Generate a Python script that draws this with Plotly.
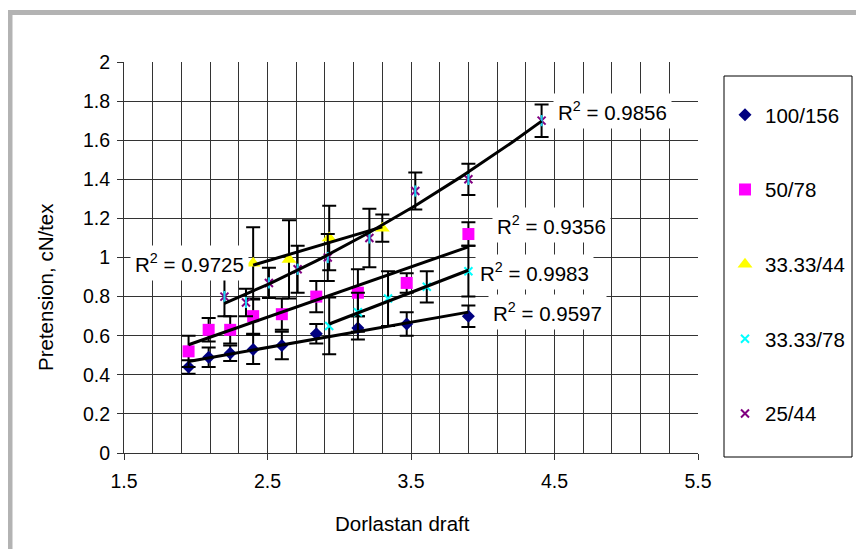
import numpy as np
import plotly.graph_objects as go

# ---------------- data ----------------
x_100_156 = [1.95, 2.09, 2.24, 2.40, 2.60, 2.84, 3.13, 3.47, 3.90]
y_100_156 = [0.44, 0.49, 0.51, 0.53, 0.55, 0.61, 0.64, 0.66, 0.70]
e_100_156 = [0.035, 0.05, 0.04, 0.075, 0.07, 0.05, 0.06, 0.06, 0.055]

x_50_78 = [1.95, 2.09, 2.24, 2.40, 2.60, 2.84, 3.13, 3.47, 3.90]
y_50_78 = [0.52, 0.63, 0.63, 0.70, 0.71, 0.80, 0.82, 0.87, 1.12]
e_50_78 = [0.08, 0.06, 0.07, 0.09, 0.08, 0.08, 0.12, 0.05, 0.06]

x_33_44 = [2.40, 2.65, 2.93, 3.30]
y_33_44 = [0.97, 0.99, 1.10, 1.15]
e_33_44 = [0.185, 0.20, 0.165, 0.07]

x_33_78 = [2.93, 3.13, 3.34, 3.61, 3.90]
y_33_78 = [0.65, 0.72, 0.79, 0.85, 0.93]
e_33_78 = [0.145, 0.10, 0.14, 0.08, 0.13]

x_25_44 = [2.20, 2.35, 2.51, 2.71, 2.92, 3.21, 3.53, 3.90, 4.41]
y_25_44 = [0.80, 0.77, 0.87, 0.94, 1.00, 1.10, 1.34, 1.40, 1.70]
e_25_44 = [0.10, 0.07, 0.077, 0.12, 0.12, 0.15, 0.095, 0.08, 0.083]

series_names = ["100/156", "50/78", "33.33/44", "33.33/78", "25/44"]
r2_labels = ["0.9597", "0.9356", "0.9725", "0.9983", "0.9856"]

# ---------------- layout constants ----------------
# the page body has an 8px margin, so the figure is drawn 8px smaller
W, H = 856, 541
ML, MR, MT, MB = 116, 166, 54, 96
PW, PH = W - ML - MR, H - MT - MB
FONT = "Liberation Sans, Arial, sans-serif"


def px_x(p):
    return (p - ML) / PW


def px_y(p):
    return 1 - (p - MT) / PH


fig = go.Figure()

styles = [
    dict(symbol="diamond", color="#000080", size=10, line=dict(width=0)),
    dict(symbol="square", color="#FF00FF", size=12, line=dict(width=0)),
    dict(symbol="triangle-up", color="#FFFF00", size=13, line=dict(width=0)),
    dict(symbol="x-thin-open", color="#00FFFF", size=8, line=dict(width=2, color="#00FFFF")),
    dict(symbol="x-thin-open", color="#800080", size=8, line=dict(width=2, color="#800080")),
]

data = [
    (x_100_156, y_100_156, e_100_156),
    (x_50_78, y_50_78, e_50_78),
    (x_33_44, y_33_44, e_33_44),
    (x_33_78, y_33_78, e_33_78),
    (x_25_44, y_25_44, e_25_44),
]

for i, ((xs, ys, es), name, st) in enumerate(zip(data, series_names, styles)):
    fig.add_trace(go.Scatter(
        x=xs, y=ys, mode="markers", name=name, legendgroup=f"g{i}",
        marker=st,
        error_y=dict(type="data", array=es, visible=True, color="black",
                     thickness=2, width=7),
    ))

# vertical stroke completing the star markers of 25/44
fig.add_trace(go.Scatter(
    x=x_25_44, y=y_25_44, mode="markers", showlegend=False,
    marker=dict(symbol="line-ns-open", size=8, line=dict(width=2, color="#800080")),
))

# trendlines
for i, (xs, ys, es) in enumerate(data):
    xs_a, ys_a = np.array(xs), np.array(ys)
    deg = 2 if i == 4 else 1
    c = np.polyfit(xs_a, ys_a, deg)
    xx = np.linspace(xs_a.min(), xs_a.max(), 60)
    fig.add_trace(go.Scatter(x=xx, y=np.polyval(c, xx), mode="lines",
                             showlegend=False, hoverinfo="skip",
                             line=dict(color="black", width=3)))

# R² labels (data-coordinate anchors)
r2_pos = [(4.034, 0.722), (4.062, 1.166), (1.542, 0.971), (3.946, 0.927), (4.49, 1.747)]
annotations = []
for (ax, ay), lab in zip(r2_pos, r2_labels):
    annotations.append(dict(
        x=ax, y=ay, xref="x", yref="y", xanchor="left", yanchor="middle",
        text=f"R<sup>2</sup> = {lab}", showarrow=False, bgcolor="white",
        borderpad=4, font=dict(family=FONT, size=20.5, color="black")))

# axis titles
annotations.append(dict(x=px_x(402 - 8), y=px_y(523 - 8), xref="paper", yref="paper",
                        xanchor="center", yanchor="middle", showarrow=False,
                        text="Dorlastan draft", font=dict(family=FONT, size=20.5)))
annotations.append(dict(x=px_x(45 - 8), y=px_y(287 - 8), xref="paper", yref="paper",
                        xanchor="center", yanchor="middle", showarrow=False, textangle=-90,
                        text="Pretension, cN/tex", font=dict(family=FONT, size=20.5)))

shapes = [
    # grey outer frame (left and top edges)
    dict(type="rect", xref="paper", yref="paper", x0=px_x(-0.5), x1=px_x(4.5),
         y0=px_y(H), y1=px_y(2), fillcolor="#B3B3B3", line=dict(width=0), layer="below"),
    dict(type="rect", xref="paper", yref="paper", x0=px_x(-0.5), x1=px_x(W),
         y0=px_y(7), y1=px_y(2), fillcolor="#B3B3B3", line=dict(width=0), layer="below"),
    # legend box
    dict(type="rect", xref="paper", yref="paper", x0=px_x(716), x1=px_x(844),
         y0=px_y(449), y1=px_y(68), fillcolor="white", line=dict(color="black", width=1),
         layer="below"),
]

grid_col = "#333333"
fig.update_layout(
    width=W, height=H,
    margin=dict(l=ML, r=MR, t=MT, b=MB),
    paper_bgcolor="white", plot_bgcolor="white",
    font=dict(family=FONT, size=19.5, color="black"),
    showlegend=True,
    legend=dict(x=px_x(717), y=px_y(87), xanchor="left", yanchor="top",
                bgcolor="rgba(0,0,0,0)", borderwidth=0,
                traceorder="grouped", tracegroupgap=45,
                font=dict(family=FONT, size=20.5, color="black")),
    annotations=annotations,
    shapes=shapes,
    xaxis=dict(range=[1.5, 5.5], tick0=1.5, dtick=1, ticks="outside", ticklen=6,
               tickcolor=grid_col, showgrid=True, gridcolor=grid_col, gridwidth=1,
               minor=dict(tick0=1.5, dtick=0.2, showgrid=True, gridcolor=grid_col,
                          gridwidth=1, ticks=""),
               showline=True, linecolor=grid_col, linewidth=1, zeroline=False,
               ticklabelstandoff=5,
               tickfont=dict(family=FONT, size=19.5)),
    yaxis=dict(range=[0, 2], tick0=0, dtick=0.2, ticks="outside", ticklen=6,
               tickcolor=grid_col, showgrid=True, gridcolor=grid_col, gridwidth=1,
               showline=True, linecolor=grid_col, linewidth=1, zeroline=False,
               tickformat="~g", ticklabelstandoff=3,
               tickfont=dict(family=FONT, size=19.5)),
)

fig.write_html("out.html")
